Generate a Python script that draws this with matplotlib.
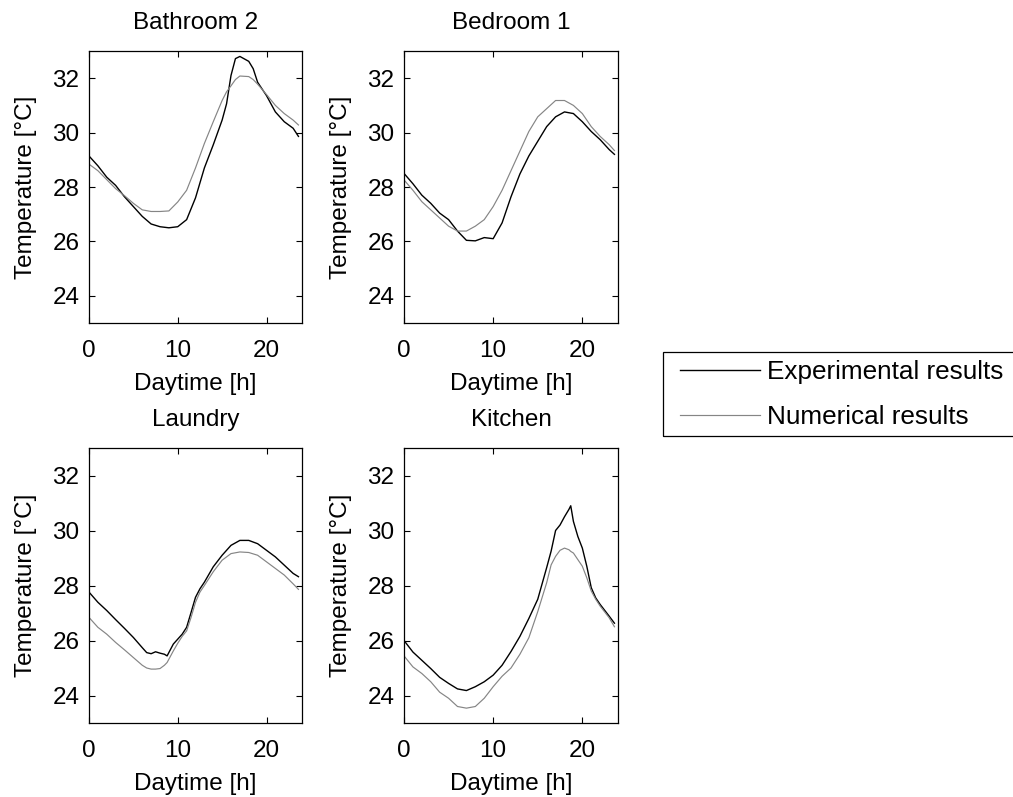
import matplotlib
matplotlib.use("Agg")
import matplotlib.pyplot as plt
from matplotlib.lines import Line2D
from matplotlib.patches import Rectangle

plt.rcParams['font.family'] = ['Liberation Sans', 'DejaVu Sans']

rooms = ["Bathroom 2", "Bedroom 1", "Laundry", "Kitchen"]

# ---- Bathroom 2 ----
bath_t = [0, 1, 2, 3, 4, 5, 6, 7, 8, 9, 10, 11, 12, 13, 14, 15, 15.5, 16, 16.5, 17, 18, 18.5, 19, 20, 21, 22, 23, 23.6]
bath_exp = [29.14, 28.78, 28.36, 28.06, 27.64, 27.28, 26.92, 26.64, 26.54, 26.5, 26.54, 26.8, 27.6, 28.7,
            29.55, 30.46, 31.06, 32.1, 32.72, 32.8, 32.62, 32.35, 31.85, 31.36, 30.76, 30.4, 30.16, 29.86]
bath_num = [28.84, 28.6, 28.27, 27.94, 27.68, 27.4, 27.16, 27.1, 27.1, 27.12, 27.45, 27.88, 28.7, 29.6,
            30.4, 31.18, 31.5, 31.72, 31.95, 32.08, 32.06, 31.95, 31.78, 31.4, 31.0, 30.7, 30.46, 30.28]

# ---- Bedroom 1 ----
bed_t = [0, 1, 2, 3, 4, 5, 6, 7, 8, 9, 10, 11, 12, 13, 14, 15, 16, 17, 18, 19, 20, 21, 22, 23, 23.6]
bed_exp = [28.5, 28.12, 27.7, 27.4, 27.04, 26.8, 26.38, 26.04, 26.02, 26.14, 26.1, 26.68, 27.64,
           28.48, 29.14, 29.68, 30.22, 30.58, 30.76, 30.7, 30.4, 30.04, 29.74, 29.38, 29.2]
bed_num = [28.26, 27.88, 27.46, 27.16, 26.86, 26.56, 26.38, 26.38, 26.56, 26.8, 27.28, 27.88, 28.6,
           29.32, 30.04, 30.58, 30.88, 31.18, 31.18, 31.0, 30.7, 30.22, 29.86, 29.56, 29.34]

# ---- Laundry ----
laun_t = [0, 1, 2, 3, 4, 5, 6, 6.5, 7, 7.5, 8, 8.5, 8.8, 9.5, 10, 10.5, 11, 11.5, 12, 12.5, 13,
          14, 15, 16, 17, 18, 19, 20, 21, 22, 23, 23.6]
laun_exp = [27.76, 27.39, 27.09, 26.76, 26.44, 26.11, 25.74, 25.56, 25.52, 25.59, 25.54, 25.5, 25.44,
            25.87, 26.05, 26.23, 26.48, 27.02, 27.57, 27.88, 28.12, 28.68, 29.1, 29.46, 29.64, 29.64,
            29.52, 29.28, 29.04, 28.74, 28.44, 28.32]
laun_num = [26.84, 26.48, 26.23, 25.93, 25.66, 25.38, 25.1, 25.0, 24.96, 24.96, 24.98, 25.1, 25.2,
            25.62, 25.9, 26.15, 26.35, 26.84, 27.39, 27.76, 28.0, 28.5, 28.92, 29.16, 29.22, 29.2,
            29.1, 28.86, 28.62, 28.38, 28.06, 27.86]

# ---- Kitchen ----
kit_t = [0, 1, 2, 3, 4, 5, 6, 7, 8, 9, 10, 11, 12, 13, 14, 15, 16, 16.5, 17, 17.5, 18, 18.5, 18.7,
         19, 19.5, 20, 20.5, 21, 21.5, 22, 23, 23.6]
kit_exp = [26.0, 25.58, 25.28, 24.98, 24.66, 24.44, 24.24, 24.18, 24.32, 24.5, 24.74, 25.1, 25.6,
           26.15, 26.8, 27.5, 28.65, 29.25, 30.0, 30.2, 30.5, 30.77, 30.9, 30.33, 29.78, 29.36, 28.7,
           27.92, 27.55, 27.31, 26.89, 26.63]
kit_num = [25.44, 25.04, 24.8, 24.5, 24.12, 23.9, 23.6, 23.54, 23.6, 23.9, 24.32, 24.7, 25.0,
           25.5, 26.1, 27.05, 28.1, 28.75, 29.06, 29.28, 29.36, 29.3, 29.24, 29.18, 28.94, 28.7,
           28.28, 27.8, 27.5, 27.25, 26.83, 26.5]

x_ticks = [0, 10, 20]
y_ticks = [24, 26, 28, 30, 32]
legend_labels = ["Experimental results", "Numerical results"]

FS = 17.5
LEG_FS = 18.8
EXP_COLOR = "black"
NUM_COLOR = "#858585"

W, H = 1013, 797
fig = plt.figure(figsize=(W / 100, H / 100), dpi=100)

# axes boxes in pixels: (left, top, right, bottom)
boxes = [(89, 51, 302, 323), (404, 51, 618, 323), (89, 448, 302, 723), (404, 448, 618, 723)]
series = [(bath_t, bath_exp, bath_num), (bed_t, bed_exp, bed_num),
          (laun_t, laun_exp, laun_num), (kit_t, kit_exp, kit_num)]

for (l, t, r, b), name, (tt, ex, nu) in zip(boxes, rooms, series):
    ax = fig.add_axes([l / W, 1 - b / H, (r - l) / W, (b - t) / H])
    ax.plot(tt, ex, color=EXP_COLOR, lw=1.0)
    ax.plot(tt, nu, color=NUM_COLOR, lw=0.85)
    ax.set_xlim(0, 24)
    ax.set_ylim(23, 33)
    ax.set_xticks(x_ticks)
    ax.set_yticks(y_ticks)
    ax.tick_params(direction='in', top=True, right=True, length=4, width=0.8,
                   labelsize=FS, colors='black')
    ax.tick_params(axis='x', pad=12)
    ax.tick_params(axis='y', pad=7)
    for sp in ax.spines.values():
        sp.set_linewidth(0.9)
        sp.set_color('black')
    ax.set_title(name, fontsize=FS, pad=16)
    ax.set_xlabel("Daytime [h]", fontsize=FS, labelpad=8)
    ax.set_ylabel("Temperature [°C]", fontsize=FS, labelpad=11)

handles = [Line2D([], [], color=EXP_COLOR, lw=1.0), Line2D([], [], color=NUM_COLOR, lw=0.85)]
leg = fig.legend(handles, legend_labels, loc='upper left',
                 bbox_to_anchor=(680 / W, 1 - 360 / H), borderaxespad=0,
                 fontsize=LEG_FS, frameon=False, handlelength=3.05, handletextpad=0.3,
                 borderpad=0, labelspacing=0.82)
fig.add_artist(Rectangle((663 / W, 1 - 436 / H), (1030 - 663) / W, (436 - 352) / H,
                         transform=fig.transFigure, fill=False, edgecolor='black',
                         linewidth=0.9, clip_on=False))

fig.savefig("out.png", dpi=100)
